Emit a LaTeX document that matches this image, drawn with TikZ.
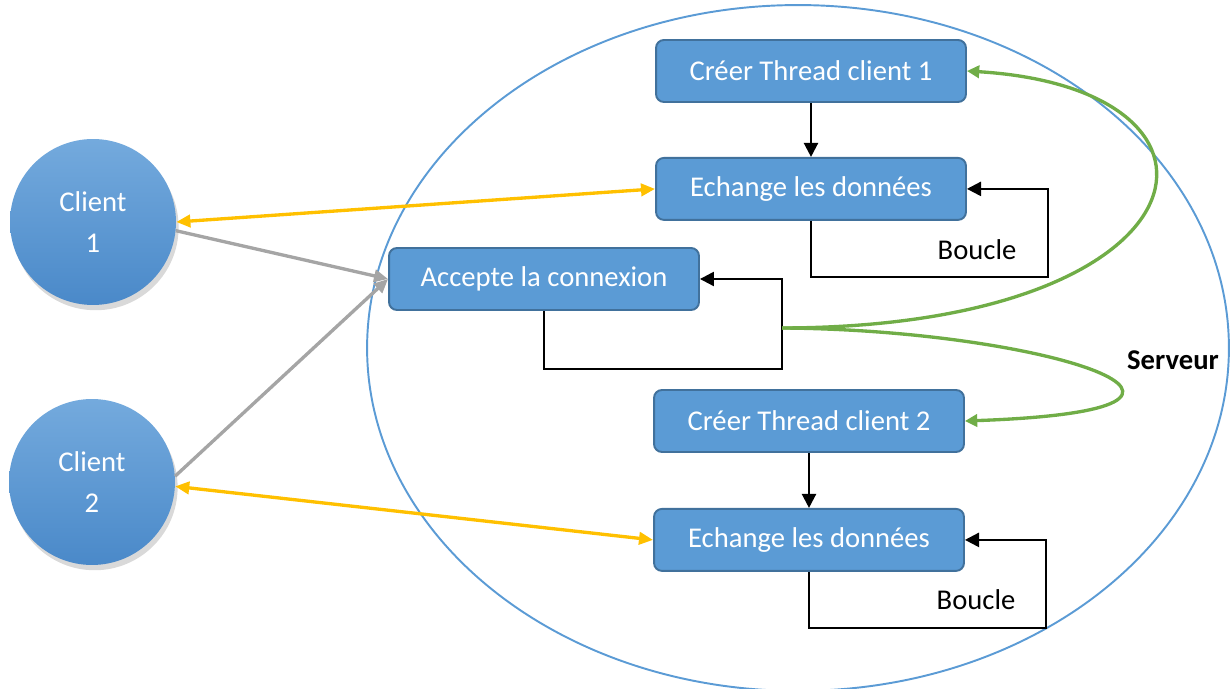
\documentclass[tikz,border=0pt]{standalone}
\usepackage{fontspec}
\setmainfont{Carlito}
\usetikzlibrary{arrows.meta,positioning,shapes.geometric,shadows}
\definecolor{boxblue}{HTML}{5B9BD5}
\definecolor{boxline}{HTML}{41719C}
\definecolor{ctop}{HTML}{74AADD}
\definecolor{cbot}{HTML}{4A89C9}
\definecolor{flow}{HTML}{FFC000}
\definecolor{conn}{HTML}{A5A5A5}
\definecolor{spawn}{HTML}{70AD47}

\begin{document}
\begin{tikzpicture}[x=0.02cm, y=0.02cm, font=\fontsize{16.3}{20}\selectfont,
      box/.style={draw=boxline,line width=1.1pt,rounded corners=4.5pt,fill=boxblue,text=white,
                  minimum width=6.2cm,minimum height=1.24cm},
      client/.style={circle,minimum size=3.32cm,top color=ctop,bottom color=cbot,text=white,
                     align=center,font=\fontsize{16.3}{23.3}\selectfont,
                     drop shadow={opacity=0.3,shadow xshift=1.5pt,shadow yshift=-3pt}},
      loop/.style={-{Triangle[length=8pt,width=8pt]},line width=1.3pt,black},
      duplex/.style={{Triangle[length=8pt,width=7pt]}-{Triangle[length=8pt,width=7pt]},line width=1.9pt,flow},
      req/.style={-{Triangle[length=8pt,width=7pt]},line width=1.9pt,conn},
      fork/.style={-{Triangle[length=7pt,width=7pt]},line width=1.9pt,spawn}]
    \useasboundingbox (0,0) rectangle (1231,689);
    \node[ellipse,draw=boxblue,line width=1.1pt,minimum width=17.24cm,minimum height=13.72cm,inner sep=0pt] (srv) at (798,341) {};
    \node[font=\fontsize{16.3}{20}\selectfont\bfseries] (srvlbl) at (1173,329) {Serveur};

    \node[client] (c1) at (93,467) {Client\\1};
    \node[client] (c2) at (92,207) {Client\\2};

    \node[box] (thr1) at (811,618) {Créer Thread client 1};
    \node[box,below=1.08cm of thr1] (ech1) {Echange les données};
    \node[box] (acc) at (544,410) {Accepte la connexion};
    \node[box] (thr2) at (809,268) {Créer Thread client 2};
    \node[box,below=1.1cm of thr2] (ech2) {Echange les données};

    \coordinate (l1) at (1048,412);
    \coordinate (la) at (782,320);
    \coordinate (l2) at (1046,61);
    \coordinate (g) at (782,361);
    \node (b1) at (977,439) {Boucle};
    \node (b2) at (976,89) {Boucle};

    \draw[loop] (thr1) -- (ech1);
    \draw[loop] (thr2) -- (ech2);
    \draw[loop] (ech1.south) |- (l1) |- (ech1.east);
    \draw[loop] (acc.south) |- (la) |- (acc.east);
    \draw[loop] (ech2.south) |- (l2) |- (ech2.east);

    \draw[fork] (g) .. controls (1215,362) and (1262,600) .. (thr1.east);
    \draw[fork] (g) .. controls (1050,359) and (1285,279) .. (thr2.east);

    \draw[duplex] (c1.east) -- (ech1.west);
    \draw[duplex] (c2.-3) -- (ech2.west);
    \draw[req] (c1.-6) -- (acc.west);
    \draw[req] (c2.4) -- (acc.west);
\end{tikzpicture}
\end{document}
